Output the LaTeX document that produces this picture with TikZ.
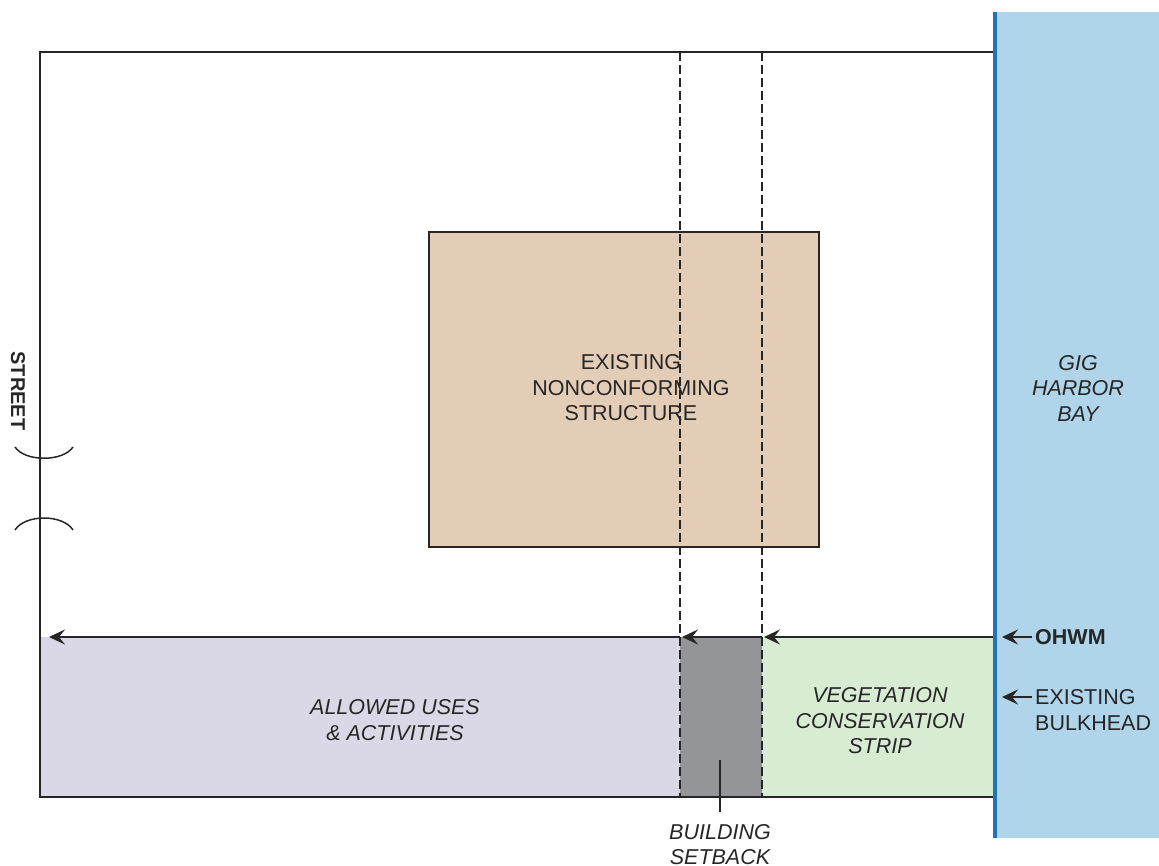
\documentclass[tikz,border=0pt]{standalone}
\usepackage{fontspec}
\setmainfont{Liberation Sans}
\usetikzlibrary{arrows.meta}
\definecolor{bayfill}{HTML}{B0D4EA}
\definecolor{bayline}{HTML}{1F74BD}
\definecolor{tan}{HTML}{E4CDB7}
\definecolor{lilac}{HTML}{DAD8E7}
\definecolor{setgray}{HTML}{949599}
\definecolor{vegg}{HTML}{D8EBD3}
\definecolor{ink}{HTML}{262626}
\tikzset{
  lbl/.style={font=\fontsize{21.5}{25.5}\selectfont, text=ink, align=center, inner sep=0pt},
  ilbl/.style={lbl, font=\fontsize{21.5}{25.5}\selectfont\itshape},
  border/.style={draw=ink, line width=1.8pt},
  tip/.style={-{Stealth[length=16pt,width=15pt,inset=6pt]}, draw=ink, line width=2.4pt},
  dashline/.style={draw=ink, line width=1.3pt, dash pattern=on 9pt off 4pt},
}
\begin{document}
\begin{tikzpicture}[x=1pt,y=-1pt]
\useasboundingbox (0,0) rectangle (1159,865);
\clip (0,0) rectangle (1159,865);
% bay
\fill[bayfill] (993,12) rectangle (1159,838);
% bottom bands
\fill[lilac] (40,637) rectangle (680,797);
\fill[setgray] (680,637) rectangle (762,797);
\fill[vegg] (762,637) rectangle (993,797);
% lot
\draw[border] (993,52) -- (40,52) -- (40,797) -- (993,797);
% structure
\node[border, fill=tan, minimum width=390pt, minimum height=315pt, inner sep=0pt] (struct) at (624,389.5) {};
\node[lbl] (structtxt) at (631,388) {EXISTING\\NONCONFORMING\\STRUCTURE};
% dashed setback lines
\coordinate (d1t) at (680,52); \coordinate (d1b) at (680,797);
\coordinate (d2t) at (762,52); \coordinate (d2b) at (762,797);
\draw[dashline] (d1t) -- (d1b);
\draw[dashline] (d2t) -- (d2b);
% bay line
\coordinate (bt) at (995,12); \coordinate (bb) at (995,838);
\draw[bayline, line width=4.5pt] (bt) -- (bb);
% OHWM line with arrowheads
\coordinate (o0) at (993,637);
\coordinate (o1) at (764,637);
\coordinate (o1s) at (762,637);
\coordinate (o2) at (682,637);
\coordinate (o2s) at (680,637);
\coordinate (o3) at (49,637);
\draw[tip] (o0) -- (o1);
\draw[tip] (o1s) -- (o2);
\draw[tip] (o2s) -- (o3);
% labels at right
\node[lbl, font=\fontsize{21.5}{25.5}\selectfont\bfseries, anchor=west] (ohwm) at (1035,637) {OHWM};
\coordinate (ohwmtip) at (1002,637);
\coordinate (ohwmst) at (1032,637);
\draw[tip] (ohwmst) -- (ohwmtip);
\node[lbl, align=left, anchor=west] (bulk) at (1035,710) {EXISTING\\BULKHEAD};
\coordinate (bulktip) at (1002,697);
\coordinate (bulkst) at (1032,697);
\draw[tip] (bulkst) -- (bulktip);
\node[ilbl] (bay) at (1078,388) {GIG\\HARBOR\\BAY};
% band labels
\node[ilbl] (allowed) at (395,720) {ALLOWED USES\\\&\ ACTIVITIES};
\node[ilbl] (veg) at (880,721) {VEGETATION\\CONSERVATION\\STRIP};
\node[ilbl, anchor=north] (setback) at (720,824) {BUILDING\\SETBACK};
\coordinate (sbl) at (720,760);
\draw[draw=ink, line width=1.8pt, shorten >=12pt] (sbl) -- (setback.north);
% street
\node[lbl, font=\fontsize{20}{24}\selectfont\bfseries, rotate=-90] (street) at (18,391) {STREET};
\coordinate (s1) at (15,447); \coordinate (s1e) at (73,447);
\draw[ink, line width=1.5pt] (s1) .. controls (25,462) and (63,462) .. (s1e);
\coordinate (s2) at (15,530); \coordinate (s2e) at (73,530);
\draw[ink, line width=1.5pt] (s2) .. controls (25,514) and (63,514) .. (s2e);
\end{tikzpicture}
\end{document}
